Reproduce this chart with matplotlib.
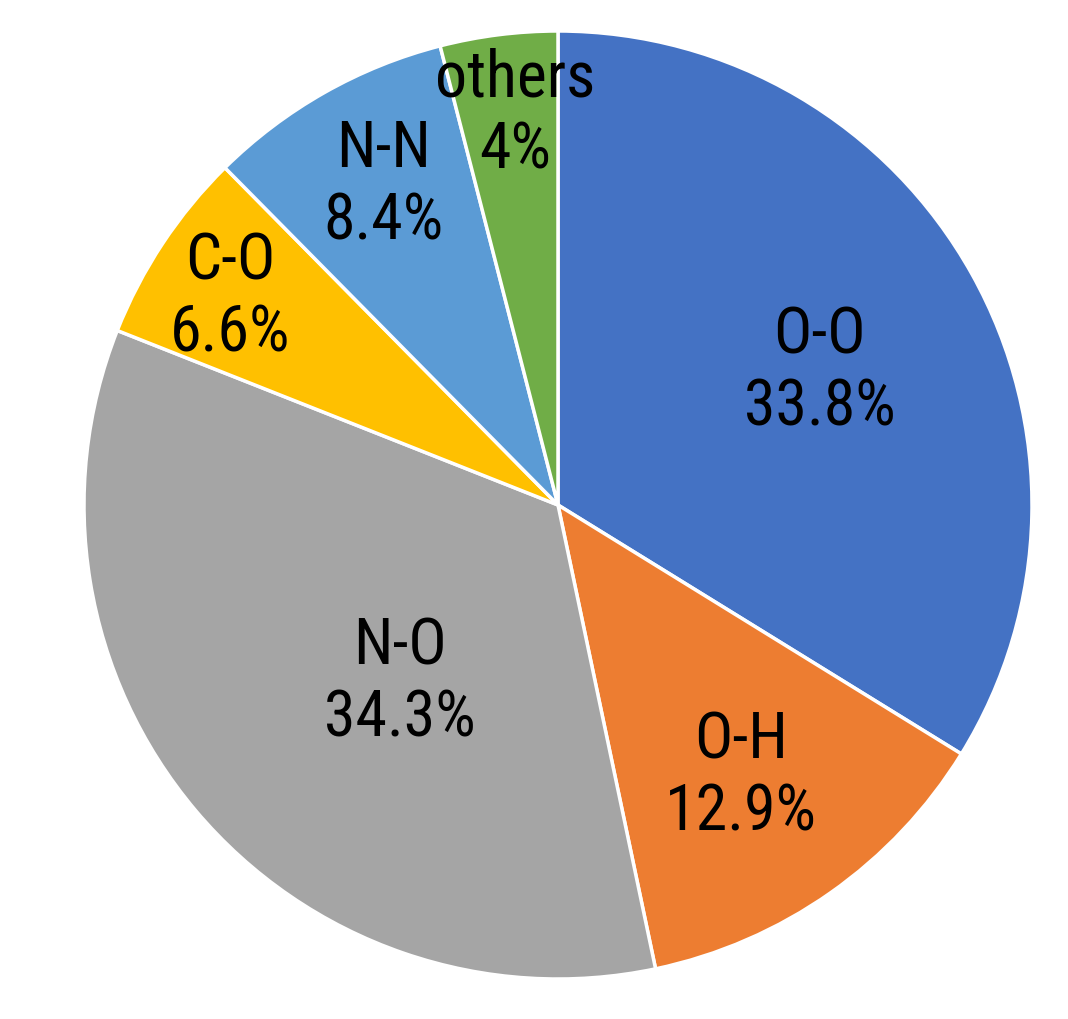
import numpy as np
import matplotlib.pyplot as plt

# bond types and shares (%)
labels = ["O-O", "O-H", "N-O", "C-O", "N-N", "others"]
shares = [33.8, 12.9, 34.3, 6.6, 8.4, 4.0]
pct_text = ["33.8%", "12.9%", "34.3%", "6.6%", "8.4%", "4%"]
colors = ["#4472C4", "#ED7D31", "#A5A5A5", "#FFC000", "#5B9BD5", "#70AD47"]
# radial position of each label (fraction of radius)
label_r = [0.62, 0.69, 0.50, 0.82, 0.77, 0.83]
label_dang = [-2, -1, 8, 1, -1, -1]

W, H = 1068, 1020
fig = plt.figure(figsize=(W / 100, H / 100), dpi=100)
R = 474
cx, cy = 558, 506
ax = fig.add_axes([(cx - R) / W, (H - cy - R) / H, 2 * R / W, 2 * R / H])

wedges, _ = ax.pie(shares, colors=colors, startangle=90, counterclock=False,
                   wedgeprops=dict(edgecolor="white", linewidth=2.5))
for w in wedges:
    w.set_clip_on(False)

for w, lab, pct, r, da in zip(wedges, labels, pct_text, label_r, label_dang):
    ang = np.deg2rad((w.theta1 + w.theta2) / 2 + da)
    ax.text(r * np.cos(ang), r * np.sin(ang), lab + "\n" + pct,
            ha="center", va="center", fontsize=46, linespacing=1.2,
            family=["Roboto Condensed", "Liberation Sans"], color="black")

ax.set_xlim(-1, 1)
ax.set_ylim(-1, 1)
ax.set_aspect("auto")
ax.axis("off")
fig.savefig("out.png", dpi=100, facecolor="white")
